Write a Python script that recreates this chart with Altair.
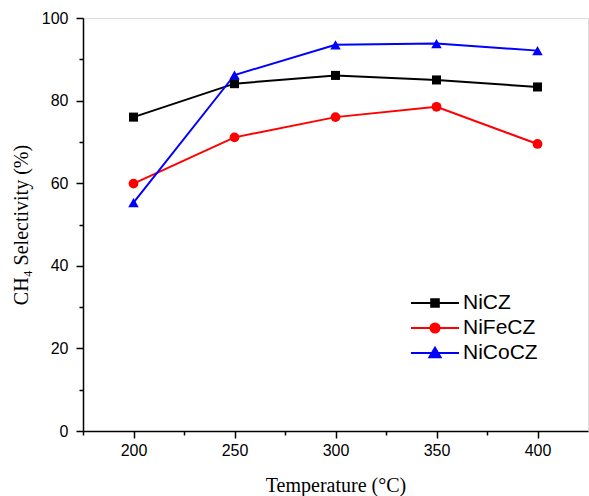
import altair as alt
import pandas as pd

# ---- data ----
temperatures = [200, 250, 300, 350, 400]
nicz = [76.0, 84.1, 86.1, 85.0, 83.3]
nifecz = [59.9, 71.1, 76.0, 78.5, 69.5]
nicocz = [55.3, 86.2, 93.5, 93.8, 92.1]
series_names = ["NiCZ", "NiFeCZ", "NiCoCZ"]
series_colors = ["#000000", "#ff0000", "#0000ff"]
series_shapes = ["square", "circle", "triangle-up"]
series_marker_sizes = [75, 82, 110]
x_tick_values = [175, 200, 225, 250, 275, 300, 325, 350, 375, 400]
y_tick_values = [0, 10, 20, 30, 40, 50, 60, 70, 80, 90, 100]

rows = []
for name, vals in zip(series_names, [nicz, nifecz, nicocz]):
    for t, v in zip(temperatures, vals):
        rows.append({"Temperature": t, "Selectivity": v, "Series": name})
df = pd.DataFrame(rows)

# marker scales use a reversed domain order (same mapping) so their hidden
# legends are not merged into the colour legend
rev_names = series_names[::-1]
rev_colors = series_colors[::-1]
rev_shapes = series_shapes[::-1]
rev_sizes = series_marker_sizes[::-1]

# legend symbols: a line with the marker in the middle
line_path = "M-2.4,0H2.4"
legend_paths = {
    "NiCZ": line_path + "M-0.38,-0.38H0.38V0.38H-0.38Z",
    "NiFeCZ": line_path + "M-0.46,0A0.46,0.46,0,1,0,0.46,0A0.46,0.46,0,1,0,-0.46,0Z",
    "NiCoCZ": line_path + "M0,-0.52L0.56,0.42H-0.56Z",
}
sym_expr = "datum.value === 'NiCZ' ? '%s' : datum.value === 'NiFeCZ' ? '%s' : '%s'" % (
    legend_paths["NiCZ"], legend_paths["NiFeCZ"], legend_paths["NiCoCZ"])

legend = alt.Legend(
    title=None, orient="none", legendX=341, legendY=274, padding=0,
    symbolSize=400, labelOffset=17, rowPadding=4,
    labelFont="Liberation Sans", labelFontSize=21, labelColor="black",
    symbolStrokeWidth=2, symbolOpacity=1,
    symbolType={"expr": sym_expr},
    symbolFillColor={"expr": "scale('color', datum.value)"},
)

x_axis = alt.Axis(
    values=x_tick_values,
    labelExpr="datum.value % 50 === 0 ? datum.label : ''",
    tickSize={"condition": {"test": "datum.value % 50 === 0", "value": 7}, "value": 4},
    labelOverlap=False, grid=False,
    domainColor="black", domainWidth=1.5, tickColor="black", tickWidth=1.5,
    labelFont="Liberation Sans", labelFontSize=16, labelColor="black", labelPadding=4,
    title="Temperature (°C)", titleFont="Liberation Serif", titleFontSize=20,
    titleFontWeight="normal", titleColor="black", titlePadding=17,
)
y_axis = alt.Axis(
    values=y_tick_values,
    labelExpr="datum.value % 20 === 0 ? datum.label : ''",
    tickSize={"condition": {"test": "datum.value % 20 === 0", "value": 7}, "value": 4},
    labelOverlap=False, grid=False,
    domainColor="black", domainWidth=1.5, tickColor="black", tickWidth=1.5,
    labelFont="Liberation Sans", labelFontSize=16, labelColor="black", labelPadding=8,
    title="CH₄ Selectivity (%)", titleFont="Liberation Serif", titleFontSize=20,
    titleFontWeight="normal", titleColor="black", titlePadding=10,
)

x_enc = alt.X("Temperature:Q", scale=alt.Scale(domain=[175, 425], nice=False, zero=False), axis=x_axis)
y_enc = alt.Y("Selectivity:Q", scale=alt.Scale(domain=[0, 100], nice=False), axis=y_axis)

lines = alt.Chart(df).mark_line(strokeWidth=2).encode(
    x=x_enc, y=y_enc,
    color=alt.Color("Series:N", scale=alt.Scale(domain=series_names, range=series_colors), legend=legend),
)
points = alt.Chart(df).mark_point(filled=True, opacity=1, strokeWidth=0).encode(
    x=x_enc, y=y_enc,
    fill=alt.Fill("Series:N", scale=alt.Scale(domain=rev_names, range=rev_colors), legend=None),
    shape=alt.Shape("Series:N", scale=alt.Scale(domain=rev_names, range=rev_shapes), legend=None),
    size=alt.Size("Series:N", scale=alt.Scale(domain=rev_names, range=rev_sizes), legend=None),
)

chart = alt.layer(lines, points).properties(
    width=505, height=413,
    autosize=alt.AutoSizeParams(type="none"),
    padding={"left": 83, "top": 18, "right": 1, "bottom": 65},
).configure_view(stroke="black", strokeWidth=1.5).configure(background="white")

chart.save("out.html", embed_options={"renderer": "svg", "actions": False})
